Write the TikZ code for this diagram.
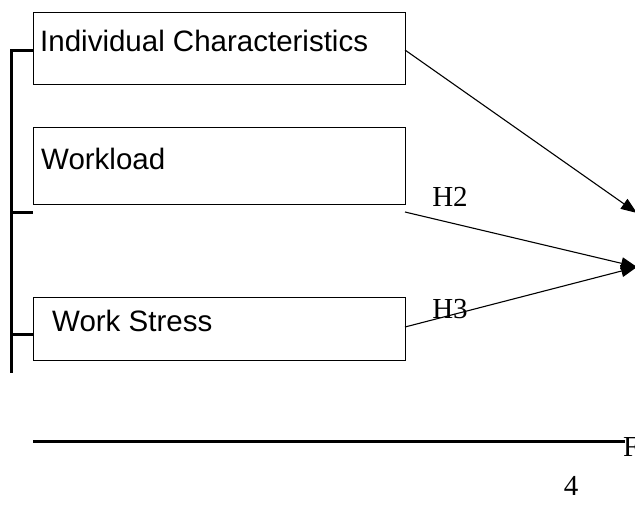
\documentclass[tikz,border=0pt]{standalone}
\usepackage{fontspec}
\setmainfont{Liberation Serif}
\newfontfamily\arialfont{Liberation Sans}
\usetikzlibrary{arrows.meta,calc}
\tikzset{
  box/.style={draw=black, line width=1.2pt, anchor=north west, inner sep=0pt},
  boxtext/.style={anchor=west, inner sep=0pt, font=\arialfont\fontsize{29.5}{33}\selectfont},
  serif/.style={inner sep=0pt, font=\fontsize{29}{33}\selectfont},
  bracket/.style={line width=3pt},
  conn/.style={line width=1.1pt, -{Triangle[length=16pt,width=12pt]}},
}
\begin{document}
\begin{tikzpicture}[x=1pt,y=-1pt]
\useasboundingbox (0,0) rectangle (635,507);
% boxes
\node[box, minimum width=372pt, minimum height=72pt] (ic) at (33,12) {};
\node[box, minimum width=372pt, minimum height=77pt] (wl) at (33,127) {};
\node[box, minimum width=372pt, minimum height=63pt] (ws) at (33,297) {};
\node[boxtext] (ict) at (40,41) {Individual Characteristics};
\node[boxtext] (wlt) at (41,159) {Workload};
\node[boxtext] (wst) at (52,321) {Work Stress};
% bracket
\coordinate (bTop) at (11,50);
\coordinate (bBot) at (11,373);
\coordinate (bMid) at (11,212);
\coordinate (bLow) at (11,334);
\draw[bracket] (ic.west |- bTop) -- (bTop) -- (bBot);
\draw[bracket] (bMid) -- (33,212);
\draw[bracket] (bLow) -- (ws.west |- bLow);
% arrows
\coordinate (s1) at (405,50);
\coordinate (s2) at (405,212);
\coordinate (s3) at (405,327);
\coordinate (t1) at (637,213);
\coordinate (t2) at (637,267);
\draw[conn] (s1) -- (t1);
\draw[conn] (s2) -- (t2);
\draw[conn] (s3) -- (t2);
\node[serif] (h2) at (450,197) {H2};
\node[serif] (h3) at (450,309) {H3};
% bottom rule
\coordinate (r1) at (33,441);
\coordinate (r2) at (625,441);
\draw[bracket] (r1) -- (r2);
\node[serif, anchor=north west] (f) at (623,437) {F};
\node[serif] (four) at (571,486) {4};
\end{tikzpicture}
\end{document}
